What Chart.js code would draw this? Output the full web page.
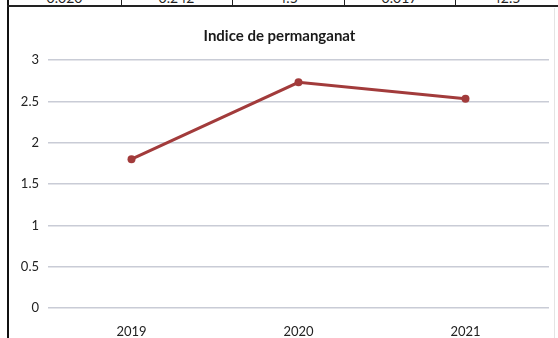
<!DOCTYPE html>
<html>
<head>
<meta charset="utf-8">
<script src="https://cdn.jsdelivr.net/npm/chart.js@4"></script>
<style>
  html, body { margin: 0; padding: 0; background: #fff; }
  body { width: 558px; height: 338px; position: relative; overflow: hidden; font-family: Lato, "Open Sans", sans-serif; }
  #wrap { position: absolute; left: 10px; top: 0; width: 548px; height: 338px; }
  .rule-left { position: absolute; left: 7px; top: 0; width: 2px; height: 338px; background: #111; }
  .rule-right { position: absolute; left: 554px; top: 8px; width: 1px; height: 330px; background: #e4e4e4; }
  .row-top { position: absolute; left: 7px; top: 5px; width: 551px; height: 2px; background: #222; }
  .cell-sep { position: absolute; top: 0; width: 1px; height: 6px; background: #222; }
  .cell { position: absolute; top: -11px; width: 110px; text-align: center; font-size: 14px; color: #222; }
</style>
</head>
<body>
<div class="rule-left"></div>
<div class="rule-right"></div>
<div class="row-top"></div>
<div id="cells"></div>
<div id="wrap"><canvas id="lineChart" width="548" height="338"></canvas></div>
<script>
const years = ['2019', '2020', '2021'];
const permanganat = [1.8, 2.73, 2.53];
const yTicks = [0, 0.5, 1, 1.5, 2, 2.5, 3];
const rowValues = ['0.020', '0.242', '4.5', '0.017', '42.5'];
const rowEdges = [8, 121, 232, 344, 455, 558];

// table row cut off at the top of the page
const cells = document.getElementById('cells');
rowEdges.forEach((x, i) => {
  if (i > 0 && i < rowEdges.length - 1) {
    const sep = document.createElement('div');
    sep.className = 'cell-sep';
    sep.style.left = x + 'px';
    cells.appendChild(sep);
  }
});
rowValues.forEach((v, i) => {
  const c = document.createElement('div');
  c.className = 'cell';
  c.style.left = rowEdges[i] + 'px';
  c.style.width = (rowEdges[i + 1] - rowEdges[i]) + 'px';
  c.textContent = v;
  cells.appendChild(c);
});

const lineColor = '#a23b3b';
const gridColor = '#c9ccd6';

new Chart(document.getElementById('lineChart'), {
  type: 'line',
  data: {
    labels: years,
    datasets: [{
      label: 'Indice de permanganat',
      data: permanganat,
      borderColor: lineColor,
      backgroundColor: lineColor,
      borderWidth: 3,
      pointRadius: 4,
      pointBorderWidth: 0,
      tension: 0,
    }],
  },
  options: {
    responsive: false,
    animation: false,
    layout: { padding: { left: 0, right: 9, top: 0, bottom: 0 } },
    plugins: {
      legend: { display: false },
      tooltip: { enabled: false },
      title: {
        display: true,
        text: 'Indice de permanganat',
        color: '#1a1a1a',
        font: { family: 'Lato', size: 15, weight: 'bold' },
        padding: { top: 27, bottom: 15 },
      },
    },
    scales: {
      x: {
        offset: true,
        grid: { display: false },
        border: { display: false },
        ticks: { color: '#222', font: { family: 'Lato', size: 13 }, padding: 8 },
        afterFit: (s) => { s.height = 30; },
      },
      y: {
        min: 0,
        max: 3,
        afterBuildTicks: (s) => { s.ticks = yTicks.map((v) => ({ value: v })); },
        grid: { color: gridColor, lineWidth: 1.5, drawTicks: false },
        border: { display: false },
        ticks: {
          color: '#222',
          font: { family: 'Lato', size: 13 },
          padding: 9,
          callback: (v) => String(v),
        },
        afterFit: (s) => { s.width = 38; },
      },
    },
  },
});
</script>
</body>
</html>
